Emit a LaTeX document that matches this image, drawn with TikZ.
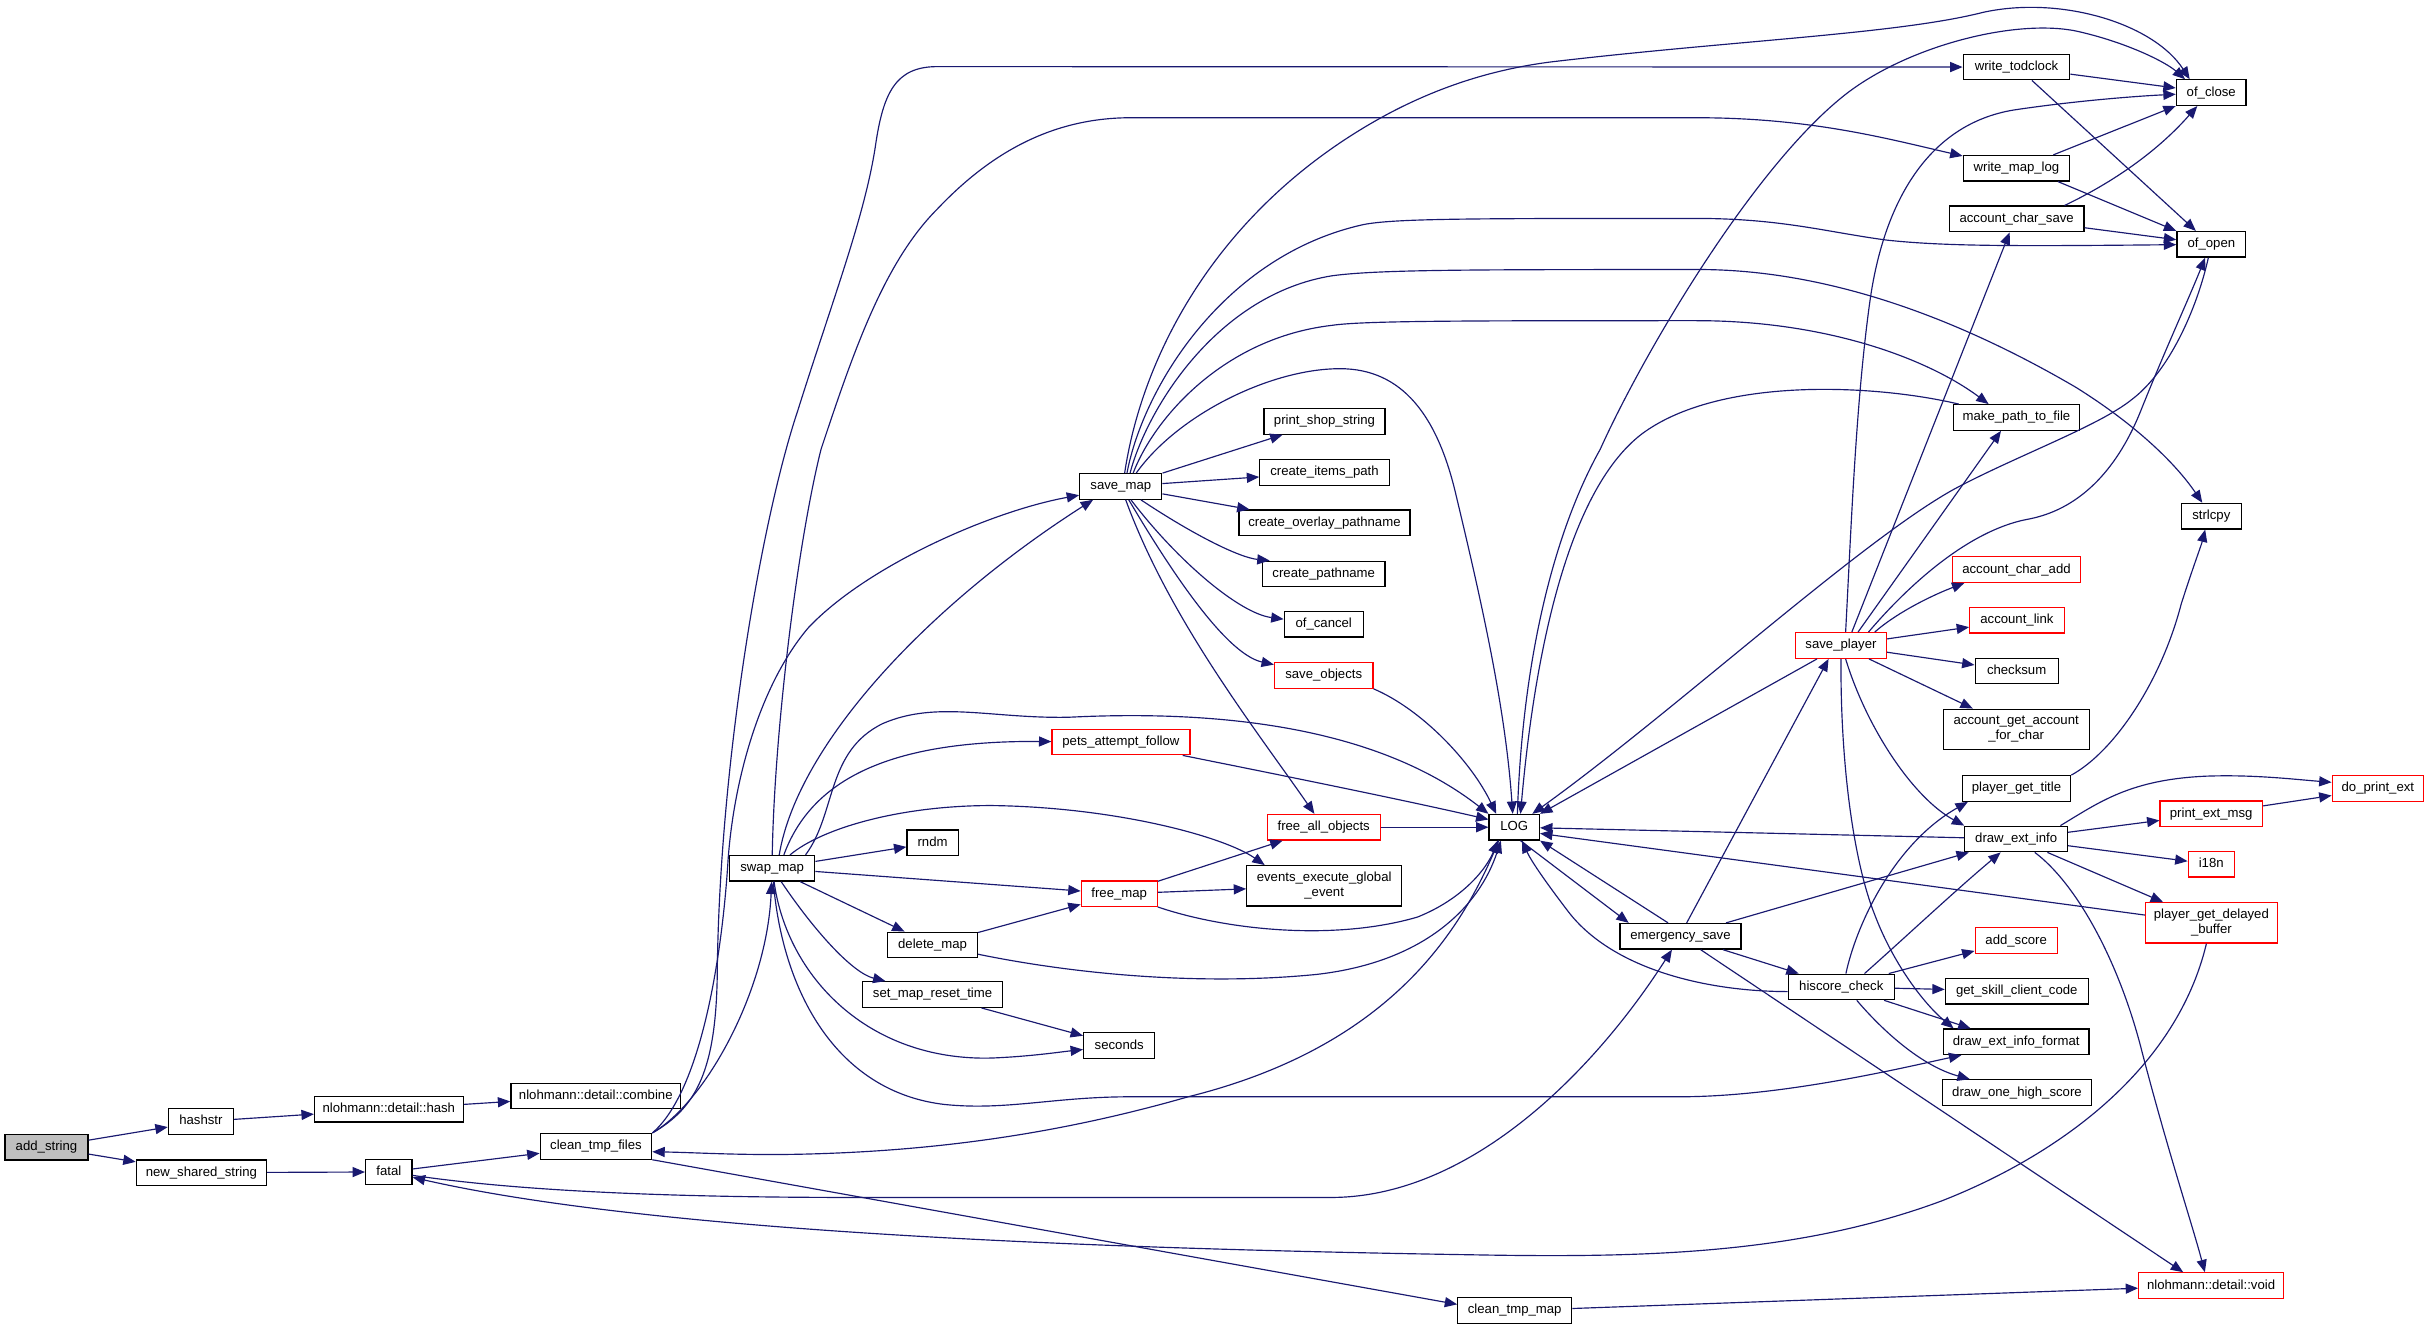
\documentclass[tikz,border=0pt]{standalone}
\usepackage{fontspec}
\setmainfont{Liberation Sans}
\usetikzlibrary{arrows.meta}
\definecolor{edgec}{HTML}{191970}
\definecolor{rootfill}{HTML}{BFBFBF}
\definecolor{nred}{HTML}{FF0000}
\tikzset{
  nb/.style={draw=black, line width=0.8pt, fill=white, minimum height=16.5pt, inner sep=0pt,
             font=\fontsize{8.5pt}{9.5pt}\selectfont, align=center},
  box/.style={nb, text height=6.3pt, text depth=1.9pt},
  redbox/.style={box, draw=nred},
  box2/.style={nb, minimum height=26pt},
  redbox2/.style={box2, draw=nred},
  e/.style={draw=edgec, line width=0.75pt, -{Triangle[length=8pt,width=6.5pt]}}
}
\begin{document}
\begin{tikzpicture}[x=1pt,y=-1pt]
\useasboundingbox (0,0) rectangle (1568,859);
\fill[white] (0,0) rectangle (1568,859);
% nodes
\node[box, fill=rootfill, minimum width=53.5pt] (add) at (30,740.5) {add\_string};
\node[box, minimum width=42pt] (hashstr) at (129.7,724) {hashstr};
\node[box, minimum width=84pt] (nss) at (130,757) {new\_shared\_string};
\node[box, minimum width=96pt] (hash) at (251,716) {nlohmann::detail::hash};
\node[box, minimum width=30pt] (fatal) at (251,756.5) {fatal};
\node[box, minimum width=109.6pt] (combine) at (384.6,707.5) {nlohmann::detail::combine};
\node[box, minimum width=72pt] (ctf) at (384.7,740) {clean\_tmp\_files};
\node[box, minimum width=55pt] (swap) at (498.5,560.5) {swap\_map};
\node[box, minimum width=53pt] (savemap) at (723.5,314) {save\_map};
\node[redbox, minimum width=89pt] (pets) at (723.6,479) {pets\_attempt\_follow};
\node[box, minimum width=33pt] (rndm) at (602,544) {rndm};
\node[redbox, minimum width=49pt] (freemap) at (722.5,577) {free\_map};
\node[box, minimum width=58pt] (deletemap) at (602,610) {delete\_map};
\node[box, minimum width=90pt] (smrt) at (602,642) {set\_map\_reset\_time};
\node[box, minimum width=46pt] (seconds) at (722.5,675) {seconds};
\node[box, minimum width=73.5pt] (ctm) at (977.8,846) {clean\_tmp\_map};
\node[box, minimum width=78pt] (pss) at (855,272) {print\_shop\_string};
\node[box, minimum width=83.5pt] (cip) at (855,305) {create\_items\_path};
\node[box, minimum width=110.5pt] (cop) at (855,337.5) {create\_overlay\_pathname};
\node[box, minimum width=79pt] (cp) at (854.5,370.5) {create\_pathname};
\node[box, minimum width=51pt] (ofcancel) at (854.5,403) {of\_cancel};
\node[redbox, minimum width=63.5pt] (saveobj) at (854.5,436) {save\_objects};
\node[redbox, minimum width=73pt] (fao) at (854.5,534) {free\_all\_objects};
\node[box2, minimum width=100pt] (eeg) at (854.8,571.8) {events\_execute\_global\\\_event};
\node[box, minimum width=32.5pt] (LOG) at (977.5,534) {LOG};
\node[box, minimum width=78pt] (es) at (1084.8,604.4) {emergency\_save};
\node[box, minimum width=68.8pt] (wtc) at (1301.7,43.3) {write\_todclock};
\node[box, minimum width=45pt] (ofclose) at (1427.4,59.8) {of\_close};
\node[box, minimum width=68.8pt] (wml) at (1301.7,108.6) {write\_map\_log};
\node[box, minimum width=87pt] (acs) at (1301.8,141.3) {account\_char\_save};
\node[box, minimum width=44.5pt] (ofopen) at (1427.5,157.7) {of\_open};
\node[box, minimum width=81.7pt] (mptf) at (1301.7,269.5) {make\_path\_to\_file};
\node[box, minimum width=39pt] (strlcpy) at (1427.5,333.2) {strlcpy};
\node[redbox, minimum width=82.5pt] (aca) at (1301.7,367.7) {account\_char\_add};
\node[redbox, minimum width=61pt] (alink) at (1302,400.4) {account\_link};
\node[redbox, minimum width=58.7pt] (sp) at (1188.4,416.7) {save\_player};
\node[box, minimum width=53.6pt] (checksum) at (1301.8,433.2) {checksum};
\node[box2, minimum width=94.2pt] (agafc) at (1301.5,470.8) {account\_get\_account\\\_for\_char};
\node[box, minimum width=70pt] (pgt) at (1301.7,509) {player\_get\_title};
\node[box, minimum width=66.3pt] (dei) at (1301.5,541.6) {draw\_ext\_info};
\node[redbox, minimum width=59pt] (dpe) at (1535,509) {do\_print\_ext};
\node[redbox, minimum width=66pt] (pem) at (1427.4,525.3) {print\_ext\_msg};
\node[redbox, minimum width=29.7pt] (i18n) at (1427.4,557.9) {i18n};
\node[redbox2, minimum width=85pt] (pgdb) at (1427.5,595.7) {player\_get\_delayed\\\_buffer};
\node[redbox, minimum width=53pt] (addscore) at (1301.5,607.2) {add\_score};
\node[box, minimum width=68.5pt] (hc) at (1188.6,637.1) {hiscore\_check};
\node[box, minimum width=92.2pt] (gscc) at (1301.9,639.8) {get\_skill\_client\_code};
\node[box, minimum width=94pt] (deif) at (1301.5,672.5) {draw\_ext\_info\_format};
\node[box, minimum width=96pt] (dohs) at (1302,705.3) {draw\_one\_high\_score};
\node[redbox, minimum width=93.4pt] (void) at (1427.3,829.9) {nlohmann::detail::void};
% edges: left part
\draw[e] (add) -- (hashstr);
\draw[e] (add) -- (nss);
\draw[e] (hashstr) -- (hash);
\draw[e] (hash) -- (combine);
\draw[e] (nss) -- (fatal);
\draw[e] (fatal) -- (ctf);
\draw[e] (fatal) .. controls (330,768) and (420,773) .. (553,773) -- (859,773) .. controls (950,773) and (1030,690) .. (es);
\draw[e] (pgdb) .. controls (1405,690) and (1330,745) .. (1254,775) .. controls (1160,810) and (1060,812) .. (950,810) .. controls (700,806) and (420,795) .. (fatal);
% clean_tmp_files
\draw[e] (ctf.north east) .. controls (455,712) and (495,640) .. (swap);
\draw[e] (ctf.north east) .. controls (450,715) and (462,690) .. (463,630) .. controls (464,500) and (490,340) .. (515,265) .. controls (538,192) and (558,140) .. (565,95) .. controls (570,60) and (578,43) .. (605,43) -- (wtc);
\draw[e] (ctf.north east) .. controls (452,705) and (466,620) .. (470,555) .. controls (474,500) and (492,440) .. (522,405) .. controls (560,365) and (640,330) .. ([yshift=3pt]savemap.south west);
\draw[e] ([xshift=-10pt]LOG.south) .. controls (945,598) and (900,675) .. (767,708) .. controls (680,733) and (600,743) .. (520,745) .. controls (480,746) and (450,744) .. ([yshift=-3.5pt]ctf.east);
\draw[e] (ctf.south east) -- ([yshift=4pt]ctm.west);
\draw[e] (ctm) -- (void);
% swap_map
\draw[e] (swap.north) .. controls (500,470) and (515,350) .. (530,290) .. controls (550,230) and (570,170) .. (605,135) .. controls (640,98) and (680,76) .. (730,76) -- (1095,76) .. controls (1170,76) and (1220,90) .. (wml);
\draw[e] ([xshift=4.5pt]swap.north) .. controls (515,480) and (600,390) .. ([xshift=9pt]savemap.south west);
\draw[e] ([xshift=7.5pt]swap.north) .. controls (525,500) and (580,478) .. (pets);
\draw[e] ([xshift=11.5pt]swap.north) .. controls (530,535) and (580,520) .. (640,520) .. controls (720,521) and (790,540) .. ([xshift=12pt]eeg.north west);
\draw[e] ([xshift=21.5pt]swap.north) .. controls (540,525) and (533,485) .. (570,467) .. controls (605,452) and (640,464) .. (690,463) .. controls (790,458) and (890,470) .. (LOG.north west);
\draw[e] (swap) -- (rndm);
\draw[e] (swap) -- (freemap);
\draw[e] (swap) -- (deletemap);
\draw[e] (swap) .. controls (525,600) and (550,628) .. ([xshift=15pt]smrt.north west);
\draw[e] (swap) .. controls (508,630) and (560,685) .. (640,683) .. controls (665,682) and (685,679) .. (seconds);
\draw[e] (swap) .. controls (505,640) and (540,705) .. (610,713) .. controls (650,717) and (680,708) .. (730,708) -- (1084,708) .. controls (1150,708) and (1225,690) .. ([xshift=12pt]deif.south west);
% free_map, delete_map, set_map_reset_time
\draw[e] (freemap) -- (fao);
\draw[e] (freemap) -- (eeg);
\draw[e] (freemap) .. controls (790,600) and (860,608) .. (915,592) .. controls (945,580) and (960,560) .. ([xshift=6pt]LOG.south west);
\draw[e] (deletemap) -- (freemap);
\draw[e] (deletemap) .. controls (700,630) and (780,636) .. (850,629) .. controls (920,621) and (955,585) .. ([xshift=8pt]LOG.south west);
\draw[e] (smrt) -- (seconds);
% save_map
\draw[e] (savemap) -- (pss);
\draw[e] (savemap) -- (cip);
\draw[e] (savemap) -- (cop);
\draw[e] (savemap) .. controls (770,345) and (800,360) .. ([xshift=5pt]cp.north west);
\draw[e] (savemap) .. controls (760,362) and (800,396) .. (ofcancel);
\draw[e] (savemap) .. controls (752,362) and (790,422) .. (saveobj);
\draw[e] (savemap) .. controls (755,400) and (810,470) .. (fao);
\draw[e] ([xshift=2.5pt]savemap.north) .. controls (738,225) and (790,130) .. (897,73) .. controls (935,53) and (970,44) .. (1001,40) .. controls (1120,26) and (1225,22) .. (1280,8) .. controls (1330,-3) and (1390,15) .. ([xshift=9pt]ofclose.north west);
\draw[e] ([xshift=4pt]savemap.north) .. controls (738,250) and (790,165) .. (880,145) .. controls (900,141) and (950,141) .. (1095,141) .. controls (1150,141) and (1180,150) .. (1218,155) .. controls (1255,159) and (1300,159) .. (ofopen);
\draw[e] ([xshift=6pt]savemap.north) .. controls (740,265) and (785,190) .. (860,178) .. controls (890,174) and (950,174) .. (1100,174) .. controls (1190,175) and (1275,212) .. (1340,250) .. controls (1380,275) and (1405,300) .. (strlcpy);
\draw[e] ([xshift=8pt]savemap.north) .. controls (745,270) and (790,218) .. (860,210) .. controls (880,207) and (950,207) .. (1095,207) .. controls (1180,207) and (1245,232) .. ([xshift=-18pt]mptf.north);
\draw[e] ([xshift=10pt]savemap.north) .. controls (760,268) and (820,238) .. (865,238) .. controls (905,238) and (928,268) .. (940,320) .. controls (958,395) and (972,460) .. ([xshift=-1pt]LOG.north);
% into LOG from the left
\draw[e] (fao) -- (LOG);
\draw[e] (saveobj.south east) .. controls (918,458) and (950,492) .. ([xshift=5pt]LOG.north west);
\draw[e] ([xshift=-5pt]pets.south east) .. controls (810,497) and (900,515) .. ([yshift=5pt]LOG.west);
% LOG, make_path_to_file, of_open, of_close
\draw[e] ([xshift=4pt]mptf.north west) .. controls (1210,248) and (1110,243) .. (1060,280) .. controls (1010,318) and (990,430) .. ([xshift=4pt]LOG.north);
\draw[e] ([xshift=2pt]LOG.north) .. controls (983,420) and (1005,340) .. (1033,290) .. controls (1060,230) and (1130,110) .. (1190,62) .. controls (1230,30) and (1300,12) .. (1340,20) .. controls (1372,27) and (1398,40) .. ([xshift=6pt]ofclose.north west);
\draw[e] (ofopen) .. controls (1418,200) and (1400,240) .. (1376,258) .. controls (1355,275) and (1300,295) .. (1261,316) .. controls (1200,350) and (1080,460) .. ([xshift=-5pt]LOG.north east);
% save_player
\draw[e] ([xshift=-12pt]sp.north east) .. controls (1230,380) and (1270,342) .. (1310,335) .. controls (1345,328) and (1368,300) .. (1382,265) .. controls (1398,225) and (1412,195) .. ([xshift=-4pt]ofopen.south);
\draw[e] ([xshift=3pt]sp.north) .. controls (1195,340) and (1198,260) .. (1207,195) .. controls (1216,130) and (1245,80) .. (1300,71) .. controls (1340,65) and (1380,62) .. (ofclose);
\draw[e] ([xshift=7pt]sp.north) -- ([xshift=-4.5pt]acs.south);
\draw[e] ([xshift=11pt]sp.north) -- ([xshift=-10pt]mptf.south);
\draw[e] ([xshift=-8pt]sp.north east) .. controls (1225,395) and (1248,384) .. ([xshift=8pt]aca.south west);
\draw[e] (sp) -- (alink);
\draw[e] (sp) -- (checksum);
\draw[e] (sp) -- (agafc);
\draw[e] ([xshift=3pt]sp.south) .. controls (1205,470) and (1235,515) .. (dei.north west);
\draw[e] (sp.south) .. controls (1188,500) and (1198,560) .. (1210,590) .. controls (1222,622) and (1242,648) .. ([xshift=7pt]deif.north west);
\draw[e] (sp) -- (LOG.north east);
% emergency_save
\draw[e] ([xshift=4pt]es.north) -- ([xshift=-8pt]sp.south);
\draw[e] ([xshift=4pt]LOG.south) -- ([xshift=6pt]es.north west);
\draw[e] ([xshift=-8pt]es.north) -- (LOG.south east);
\draw[e] ([xshift=-10pt]es.north east) -- ([xshift=3pt]dei.south west);
\draw[e] (es) -- (hc);
\draw[e] ([xshift=13pt]es.south) -- ([xshift=-18pt]void.north);
% hiscore_check
\draw[e] ([yshift=-3pt]hc.west) .. controls (1100,640) and (1040,625) .. (1012,588) .. controls (996,567) and (988,555) .. ([xshift=5pt]LOG.south);
\draw[e] ([xshift=3pt]hc.north) .. controls (1198,598) and (1222,545) .. ([xshift=4pt]pgt.south west);
\draw[e] ([xshift=15pt]hc.north) .. controls (1230,605) and (1262,575) .. ([xshift=-10pt]dei.south);
\draw[e] ([xshift=-4pt]hc.north east) -- ([yshift=2pt]addscore.south west);
\draw[e] (hc) -- (gscc);
\draw[e] ([xshift=-7pt]hc.south east) -- ([xshift=18pt]deif.north west);
\draw[e] ([xshift=10pt]hc.south) .. controls (1215,665) and (1240,688) .. ([xshift=18pt]dohs.north west);
% draw_ext_info
\draw[e] (dei) -- (LOG);
\draw[e] ([xshift=-5pt]dei.north east) .. controls (1355,518) and (1375,503) .. (1425,501) .. controls (1455,500) and (1480,503) .. ([yshift=4pt]dpe.west);
\draw[e] (dei) -- (pem);
\draw[e] (pem) -- (dpe);
\draw[e] (dei) -- (i18n);
\draw[e] (dei) -- (pgdb);
\draw[e] ([xshift=12pt]dei.south) .. controls (1340,570) and (1368,620) .. (1383,680) .. controls (1400,745) and (1415,790) .. ([xshift=-4pt]void.north);
\draw[e] ([yshift=5pt]pgdb.west) -- ([yshift=-4pt]LOG.east);
\draw[e] (pgt.north east) .. controls (1365,485) and (1395,440) .. (1408,390) .. controls (1416,365) and (1421,352) .. ([xshift=-4pt]strlcpy.south);
% top right
\draw[e] (wtc) -- (ofclose);
\draw[e] ([xshift=10pt]wtc.south) -- ([xshift=-10pt]ofopen.north);
\draw[e] ([xshift=-11pt]wml.north east) -- (ofclose.south west);
\draw[e] ([xshift=-8pt]wml.south east) -- (ofopen.north west);
\draw[e] ([xshift=-13pt]acs.north east) .. controls (1355,122) and (1388,103) .. ([xshift=-9pt]ofclose.south);
\draw[e] (acs) -- (ofopen);
\end{tikzpicture}
\end{document}
